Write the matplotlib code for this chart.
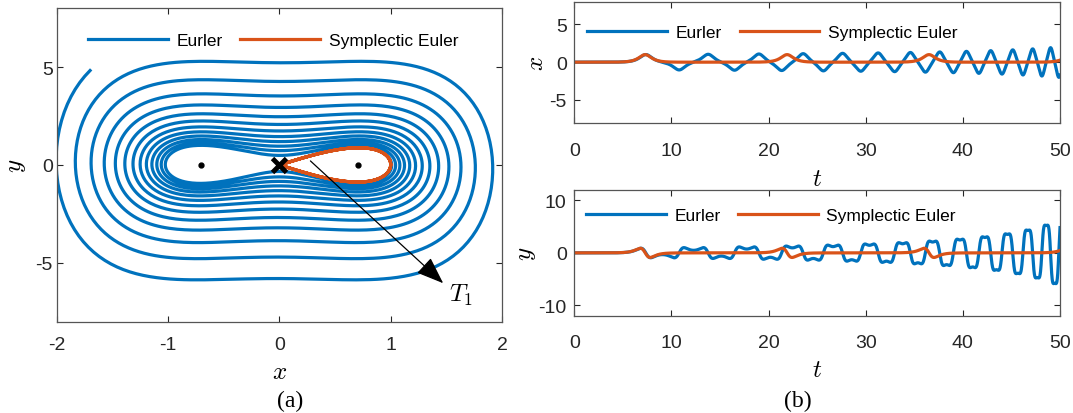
import numpy as np
import matplotlib
matplotlib.use('Agg')
import matplotlib.pyplot as plt
from matplotlib.patches import FancyArrowPatch

# double-well oscillator H = y^2/2 + k (x^4 - x^2), integrated with step h
k = 1.54
h = 0.0106
t_end = 50.0
x_start = 1.084e-5
y_start = 0.0

wells = [-0.7071, 0.7071]
saddle = [0.0]

series_names = ['Eurler', 'Symplectic Euler']
colors = ['#0072BD', '#D95319']

xticks_a = [-2, -1, 0, 1, 2]
yticks_a = [-5, 0, 5]
tticks = [0, 10, 20, 30, 40, 50]
xticks_b = [-5, 0, 5]
yticks_b = [-10, 0, 10]


def force(x):
    return 2 * k * x - 4 * k * x ** 3


def integrate(symplectic):
    n = int(round(t_end / h))
    xs = np.empty(n + 1)
    ys = np.empty(n + 1)
    x, y = x_start, y_start
    xs[0], ys[0] = x, y
    for i in range(n):
        if symplectic:
            y = y + h * force(x)
            x = x + h * y
        else:
            x, y = x + h * y, y + h * force(x)
        xs[i + 1], ys[i + 1] = x, y
    return xs, ys


xe, ye = integrate(False)
xs, ys = integrate(True)
t = np.arange(len(xe)) * h

plt.rcParams['font.family'] = ['Liberation Sans', 'DejaVu Sans']
plt.rcParams['mathtext.fontset'] = 'cm'
plt.rcParams['axes.unicode_minus'] = False
tick_color = '#262626'
spine_color = '#555555'

fig = plt.figure(figsize=(10.73, 4.14), dpi=100)
ax1 = fig.add_axes([0.0531, 0.221, 0.4147, 0.7565])
ax2 = fig.add_axes([0.5352, 0.7014, 0.4527, 0.292])
ax3 = fig.add_axes([0.5352, 0.235, 0.4527, 0.3036])


def style(ax, xpad, ypad):
    ax.tick_params(direction='in', length=4, width=0.8, top=True, right=True,
                   labelsize=14, colors=tick_color)
    ax.tick_params(axis='x', pad=xpad)
    ax.tick_params(axis='y', pad=ypad)
    for s in ax.spines.values():
        s.set_color(spine_color)
        s.set_linewidth(0.9)


def legend(ax, x, y):
    ax.legend(loc='center left', bbox_to_anchor=(x, y), ncol=2, frameon=False,
              fontsize=12.5, handlelength=4.6, handletextpad=0.5,
              columnspacing=1.0, borderpad=0, borderaxespad=0)


# (a) phase plane
ax1.plot(xe, ye, color=colors[0], lw=2.3, label=series_names[0])
ax1.plot(xs, ys, color=colors[1], lw=2.3, label=series_names[1])
ax1.plot(wells, [0, 0], 'o', color='k', ms=3.5, zorder=5)
ax1.plot(saddle, [0], 'x', color='k', ms=10, mew=3.5, zorder=6)
ax1.add_patch(FancyArrowPatch((0.26, 0.3), (1.49, -6.14),
                              arrowstyle='-|>,head_length=0.85,head_width=0.32',
                              mutation_scale=20, lw=0.9, color='k', zorder=7))
ax1.text(1.52, -6.6, r'$T_{\mathit{1}}$', fontsize=18, ha='left', va='center')
ax1.set_xlim(-2, 2)
ax1.set_ylim(-8, 8)
ax1.set_xticks(xticks_a)
ax1.set_yticks(yticks_a)
ax1.set_xlabel(r'$x$', fontsize=18, labelpad=4)
ax1.set_ylabel(r'$y$', fontsize=18, labelpad=5)
style(ax1, 10.5, 3)
legend(ax1, 0.07, 0.897)
fig.text(0.2705, 0.03, '(a)', fontsize=17, family='Liberation Serif',
         ha='center', va='center')

# (b) time series
ax2.plot(t, xe, color=colors[0], lw=2.3, label=series_names[0])
ax2.plot(t, xs, color=colors[1], lw=2.3, label=series_names[1])
ax2.set_xlim(0, 50)
ax2.set_ylim(-8, 8)
ax2.set_xticks(tticks)
ax2.set_yticks(xticks_b)
ax2.set_xlabel(r'$t$', fontsize=18, labelpad=5)
ax2.set_ylabel(r'$x$', fontsize=18, labelpad=1)
style(ax2, 14, 5.5)
legend(ax2, 0.027, 0.749)

ax3.plot(t, ye, color=colors[0], lw=2.3, label=series_names[0])
ax3.plot(t, ys, color=colors[1], lw=2.3, label=series_names[1])
ax3.set_xlim(0, 50)
ax3.set_ylim(-12, 12)
ax3.set_xticks(tticks)
ax3.set_yticks(yticks_b)
ax3.set_xlabel(r'$t$', fontsize=18, labelpad=4)
ax3.set_ylabel(r'$y$', fontsize=18, labelpad=0)
style(ax3, 13.5, 5.5)
legend(ax3, 0.0235, 0.796)
fig.text(0.744, 0.03, '(b)', fontsize=17, family='Liberation Serif',
         ha='center', va='center')

fig.savefig('out.png', dpi=100)
